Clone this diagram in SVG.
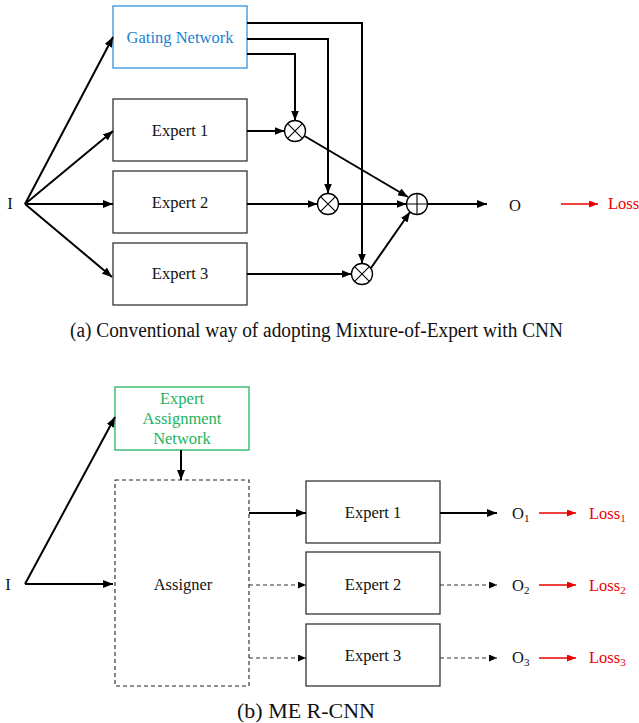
<svg xmlns="http://www.w3.org/2000/svg" width="639" height="723" viewBox="0 0 639 723" font-family="'Liberation Serif', 'Times New Roman', serif">
<defs>
<marker id="ah" viewBox="0 0 10 8" refX="10" refY="4" markerWidth="10" markerHeight="8" markerUnits="userSpaceOnUse" orient="auto"><path d="M0,0 L10,4 L0,8 z" fill="#000"/></marker>
<marker id="ahs" viewBox="0 0 8 7" refX="8" refY="3.5" markerWidth="8" markerHeight="7" markerUnits="userSpaceOnUse" orient="auto"><path d="M0,0 L8,3.5 L0,7 z" fill="#000"/></marker>
<marker id="ahr" viewBox="0 0 9 7" refX="9" refY="3.5" markerWidth="9" markerHeight="7" markerUnits="userSpaceOnUse" orient="auto"><path d="M0,0 L9,3.5 L0,7 z" fill="#e00"/></marker>
</defs>
<style>
text{font-size:16.5px;fill:#111}
.box{fill:#fff;stroke:#333;stroke-width:1.3}
.c{text-anchor:middle}
.ln{fill:none;stroke:#000;stroke-width:2}
.dl{fill:none;stroke:#333;stroke-width:1.2;stroke-dasharray:4,3}
.rl{fill:none;stroke:#e00;stroke-width:1.3}
.red{fill:#e00}
.op{fill:#fff;stroke:#000;stroke-width:1.3}
.cap{font-size:20.5px}
</style>
<rect width="639" height="723" fill="#fff"/>
<g id="gating"><rect x="113" y="6" width="134" height="62" fill="#fff" stroke="#2f93e0" stroke-width="1.3"/><text x="180" y="43" class="c" style="fill:#1a7fd0">Gating Network</text></g>
<g id="a-expert1"><rect class="box" x="113" y="99" width="134" height="62"/><text x="180" y="136" class="c">Expert 1</text></g>
<g id="a-expert2"><rect class="box" x="113" y="171" width="134" height="62"/><text x="180" y="208" class="c">Expert 2</text></g>
<g id="a-expert3"><rect class="box" x="113" y="243" width="134" height="62"/><text x="180" y="279" class="c">Expert 3</text></g>
<g id="a-I"><text x="10" y="209" class="c">I</text></g>
<g id="mul1"><circle class="op" cx="295" cy="131" r="10.5"/><path d="M287.6,123.6 L302.4,138.4 M302.4,123.6 L287.6,138.4" stroke="#000" stroke-width="1.1"/></g>
<g id="mul2"><circle class="op" cx="328" cy="204" r="10.5"/><path d="M320.6,196.6 L335.4,211.4 M335.4,196.6 L320.6,211.4" stroke="#000" stroke-width="1.1"/></g>
<g id="mul3"><circle class="op" cx="362" cy="274" r="10.5"/><path d="M354.6,266.6 L369.4,281.4 M369.4,266.6 L354.6,281.4" stroke="#000" stroke-width="1.1"/></g>
<g id="sum"><circle class="op" cx="417" cy="204" r="10.5"/><path d="M406.5,204 L427.5,204 M417,193.5 L417,214.5" stroke="#000" stroke-width="1.1"/></g>
<g id="a-O"><text x="515" y="211" class="c">O</text></g>
<g id="a-loss"><text x="608" y="209" class="red">Loss</text></g>
<g id="caption-a"><text x="70" y="337" class="cap" textLength="493" lengthAdjust="spacingAndGlyphs">(a) Conventional way of adopting Mixture-of-Expert with CNN</text></g>
<g id="connectors-a">
<path class="ln" d="M25,204 L113,37" marker-end="url(#ah)"/>
<path class="ln" d="M25,204 L113,131" marker-end="url(#ah)"/>
<path class="ln" d="M25,204 L113,204" marker-end="url(#ah)"/>
<path class="ln" d="M25,204 L112,277" marker-end="url(#ah)"/>
<path class="ln" d="M247,23 L362,23 L362,263.5" marker-end="url(#ah)"/>
<path class="ln" d="M247,39 L328,39 L328,193.5" marker-end="url(#ah)"/>
<path class="ln" d="M247,54 L295,54 L295,120.5" marker-end="url(#ah)"/>
<path class="ln" d="M247,131 L284.5,131" marker-end="url(#ah)"/>
<path class="ln" d="M247,204 L317.5,204" marker-end="url(#ah)"/>
<path class="ln" d="M247,274 L351.5,274" marker-end="url(#ah)"/>
<path class="ln" d="M304.5,136 L408,197" marker-end="url(#ah)"/>
<path class="ln" d="M338.5,204 L406.5,204" marker-end="url(#ah)"/>
<path class="ln" d="M371,268 L410,212" marker-end="url(#ah)"/>
<path class="ln" d="M427.5,204 L487,204" marker-end="url(#ah)"/>
<path class="rl" d="M561,204 L598,204" marker-end="url(#ahr)"/>
</g>
<g id="ean"><rect x="115" y="387" width="134" height="63" fill="#fff" stroke="#22b35e" stroke-width="1.3"/><text x="182" y="404" class="c" style="fill:#22b35e">Expert</text><text x="182" y="424" class="c" style="fill:#22b35e">Assignment</text><text x="182" y="444" class="c" style="fill:#22b35e">Network</text></g>
<g id="assigner"><rect x="115" y="480" width="134" height="206" fill="#fff" stroke="#222" stroke-width="1.1" stroke-dasharray="4,3"/><text x="183" y="590" class="c">Assigner</text></g>
<g id="b-expert1"><rect class="box" x="306" y="481" width="134" height="62"/><text x="373" y="518" class="c">Expert 1</text></g>
<g id="b-expert2"><rect class="box" x="306" y="552" width="134" height="62"/><text x="373" y="590" class="c">Expert 2</text></g>
<g id="b-expert3"><rect class="box" x="306" y="624" width="134" height="62"/><text x="373" y="661" class="c">Expert 3</text></g>
<g id="b-I"><text x="8" y="590" class="c">I</text></g>
<g id="b-O1"><text x="512" y="519">O<tspan font-size="11" dy="3">1</tspan></text></g>
<g id="b-O2"><text x="512" y="591">O<tspan font-size="11" dy="3">2</tspan></text></g>
<g id="b-O3"><text x="512" y="663">O<tspan font-size="11" dy="3">3</tspan></text></g>
<g id="b-loss1"><text x="589" y="519" class="red">Loss<tspan font-size="11" dy="3" class="red">1</tspan></text></g>
<g id="b-loss2"><text x="589" y="591" class="red">Loss<tspan font-size="11" dy="3" class="red">2</tspan></text></g>
<g id="b-loss3"><text x="589" y="663" class="red">Loss<tspan font-size="11" dy="3" class="red">3</tspan></text></g>
<g id="caption-b"><text x="237" y="718" class="cap" textLength="138" lengthAdjust="spacingAndGlyphs">(b) ME R-CNN</text></g>
<g id="connectors-b">
<path class="ln" d="M25,584 L115,417" marker-end="url(#ah)"/>
<path class="ln" d="M25,584 L113,584" marker-end="url(#ah)"/>
<path class="ln" d="M181,450 L181,480" marker-end="url(#ah)"/>
<path class="ln" d="M249,513 L306,513" marker-end="url(#ah)"/>
<path class="dl" d="M249,585 L306,585" marker-end="url(#ahs)"/>
<path class="dl" d="M249,658 L306,658" marker-end="url(#ahs)"/>
<path class="ln" d="M440,513 L497,513" marker-end="url(#ah)"/>
<path class="dl" d="M440,585 L497,585" marker-end="url(#ahs)"/>
<path class="dl" d="M440,658 L497,658" marker-end="url(#ahs)"/>
<path class="rl" d="M539,513 L576,513" marker-end="url(#ahr)"/>
<path class="rl" d="M539,585 L576,585" marker-end="url(#ahr)"/>
<path class="rl" d="M539,658 L576,658" marker-end="url(#ahr)"/>
</g>
</svg>
